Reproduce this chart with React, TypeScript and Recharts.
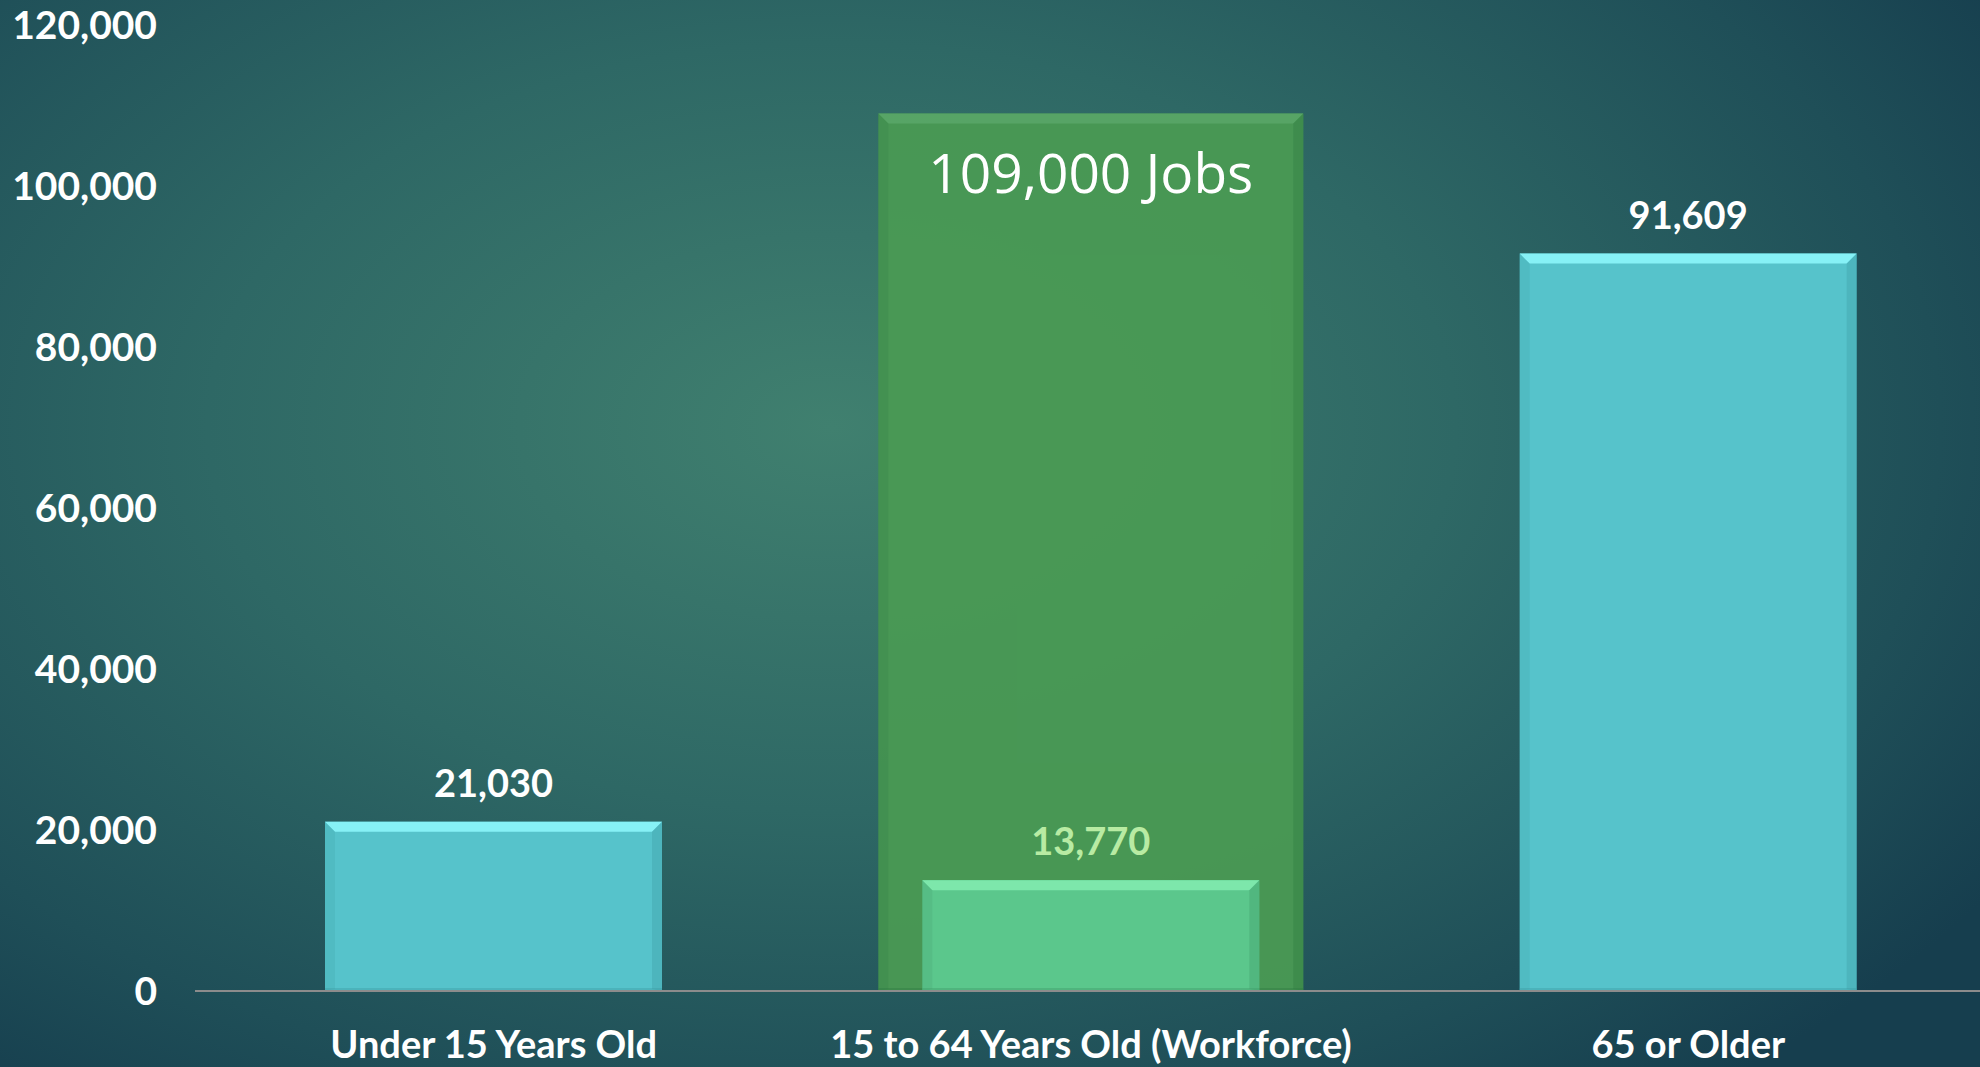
import { BarChart, Bar, XAxis, YAxis, LabelList } from "recharts"

const categories = ["Under 15 Years Old", "15 to 64 Years Old (Workforce)", "65 or Older"]
const population = [21030, 13770, 91609]
const jobs = [null, 109000, null]
const yTicks = [0, 20000, 40000, 60000, 80000, 100000, 120000]
const popColors = ["#56c3cb", "#5dca90", "#56c3cb"]
const popLabelColors = ["#ffffff", "#b8eba3", "#ffffff"]

const data = categories.map((name, i) => ({ name, population: population[i], jobs: jobs[i] }))

const fmt = (v: number) => v.toLocaleString("en-US")

function BevelBar(props: any) {
  const { x, y, width, height, fill, top, edge, opacity = 1 } = props
  if (!height || height <= 0) return null
  const b = Math.min(10, width / 10)
  return (
    <g opacity={opacity}>
      <rect x={x} y={y} width={width} height={height} fill={fill} />
      <polygon points={`${x},${y} ${x + width},${y} ${x + width - b},${y + b} ${x + b},${y + b}`} fill={top} />
      <polygon points={`${x},${y} ${x + b},${y + b} ${x + b},${y + height - 2} ${x},${y + height}`} fill={edge} opacity={0.2} />
      <polygon points={`${x + width},${y} ${x + width - b},${y + b} ${x + width - b},${y + height - 2} ${x + width},${y + height}`} fill={edge} opacity={0.35} />
      <rect x={x} y={y + height - 3} width={width} height={3} fill={edge} opacity={0.4} />
    </g>
  )
}

function PopBar(props: any) {
  const i = props.index
  const green = i === 1
  return <BevelBar {...props} fill={popColors[i]} top={green ? "#80ecb0" : "#86f1f6"} edge={green ? "#3f9a6a" : "#3c9aa2"} opacity={green ? 0.95 : 1} />
}

function JobsBar(props: any) {
  return <BevelBar {...props} fill="#4a9a54" top="#5aa866" edge="#2f7a40" opacity={0.95} />
}

function PopLabel(props: any) {
  const { x, y, width, value, index } = props
  return (
    <text x={x + width / 2} y={y - 40} fill={popLabelColors[index]} textAnchor="middle" dominantBaseline="central" fontFamily="Lato" fontWeight={700} fontSize={38}>
      {fmt(value)}
    </text>
  )
}

function JobsLabel(props: any) {
  const { x, y, width, value } = props
  if (value == null) return null
  return (
    <text x={x + width / 2} y={y + 58} fill="#ffffff" textAnchor="middle" dominantBaseline="central" fontFamily="Open Sans" fontSize={55}>
      {fmt(value)} Jobs
    </text>
  )
}

export default function App() {
  return (
    <div
      style={{
        width: 1980,
        height: 1067,
        overflow: "hidden",
        background: "radial-gradient(ellipse 70% 80% at 42% 40%, #40806f 0%, #2e6865 45%, #1f4f58 80%, #163e4e 100%)",
      }}
    >
      <style>{"body{margin:0}"}</style>
      <BarChart width={1980} height={1067} data={data} margin={{ top: 25, right: -7, left: 0, bottom: 0 }}>
        <XAxis
          xAxisId="front"
          dataKey="name"
          height={76}
          axisLine={{ stroke: "#8c8c8c", strokeWidth: 2 }}
          tickLine={false}
          tickMargin={34}
          tick={{ fill: "#ffffff", fontFamily: "Lato", fontWeight: 700, fontSize: 38 }}
        />
        <XAxis xAxisId="back" dataKey="name" hide height={0} />
        <YAxis
          width={195}
          domain={[0, 120000]}
          ticks={yTicks}
          axisLine={false}
          tickLine={false}
          tickSize={0}
          tickMargin={38}
          tickFormatter={fmt}
          tick={{ fill: "#ffffff", fontFamily: "Lato", fontWeight: 700, fontSize: 39 }}
        />
        <Bar xAxisId="back" dataKey="jobs" barSize={425} shape={<JobsBar />} isAnimationActive={false}>
          <LabelList dataKey="jobs" content={<JobsLabel />} />
        </Bar>
        <Bar xAxisId="front" dataKey="population" barSize={337} shape={<PopBar />} isAnimationActive={false}>
          <LabelList dataKey="population" content={<PopLabel />} />
        </Bar>
      </BarChart>
    </div>
  )
}
